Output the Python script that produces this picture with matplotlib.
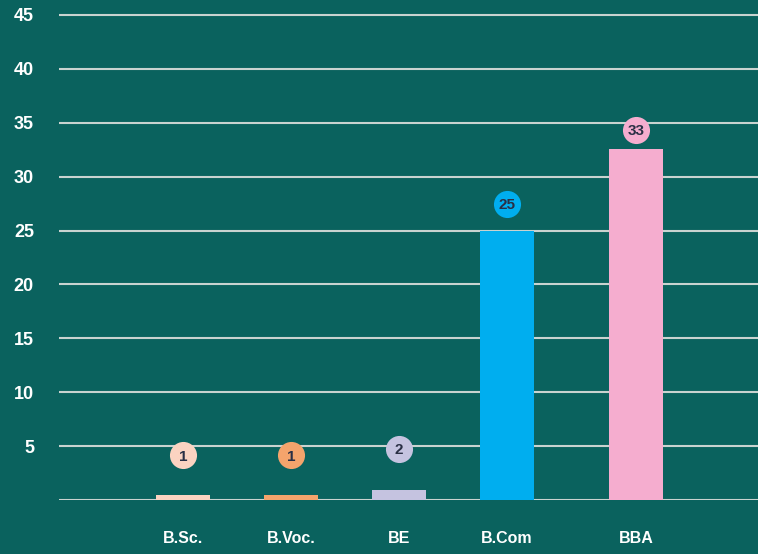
import matplotlib
matplotlib.use("Agg")
import matplotlib.pyplot as plt
import matplotlib.transforms as mtransforms

categories = ["B.Sc.", "B.Voc.", "BE", "B.Com", "BBA"]
values = [0.46, 0.46, 0.93, 25.0, 32.6]
labels = ["1", "1", "2", "25", "33"]
yticks = [5, 10, 15, 20, 25, 30, 35, 40, 45]

colors = ["#FBD3C1", "#F4A46C", "#C5C3E0", "#00AEEF", "#F5ADCF"]
x_pos = [0, 1, 2, 3, 4.194]
label_offset_px = [40, 40, 41, 27, 19]
bg = "#0A625E"

W, H = 758, 554
fig = plt.figure(figsize=(W / 100, H / 100), dpi=100, facecolor=bg)
ax = fig.add_axes([59 / W, 54 / H, 1 - 59 / W, (500 - 4.2) / H])
ax.set_facecolor(bg)

ax.bar(x_pos, values, width=0.5, color=colors, zorder=3)

for x, v, lab, c, off in zip(x_pos, values, labels, colors, label_offset_px):
    tr = mtransforms.offset_copy(ax.transData, fig=fig, x=0, y=off, units="dots")
    ax.plot([x], [v], marker="o", markersize=19.5, color=c, markeredgewidth=0,
            transform=tr, clip_on=False, zorder=4)
    ax.text(x, v, lab, transform=tr, ha="center", va="center_baseline",
            fontsize=11, fontweight="bold", color="#2A2F45",
            family="Liberation Sans", zorder=5)

ax.set_xlim(-1.148, 5.324)
ax.set_ylim(0, 46)
ax.set_yticks([0] + yticks)
ax.set_yticklabels([""] + [str(t) for t in yticks])
ax.set_xticks(x_pos)
ax.set_xticklabels(categories)
ax.yaxis.grid(True, color="#C9D3D0", linewidth=1.5, zorder=0)
ax.set_axisbelow(True)
for s in ax.spines.values():
    s.set_visible(False)
ax.tick_params(axis="y", length=0, pad=18, labelcolor="white")
ax.tick_params(axis="x", length=0, pad=22, labelcolor="white")
for t in ax.get_yticklabels():
    t.set_fontweight("bold")
    t.set_fontsize(13)
    t.set_family("Liberation Sans")
for t in ax.get_xticklabels():
    t.set_fontweight("bold")
    t.set_fontsize(11.5)
    t.set_family("Liberation Sans")

fig.savefig("out.png", dpi=100, facecolor=bg)
